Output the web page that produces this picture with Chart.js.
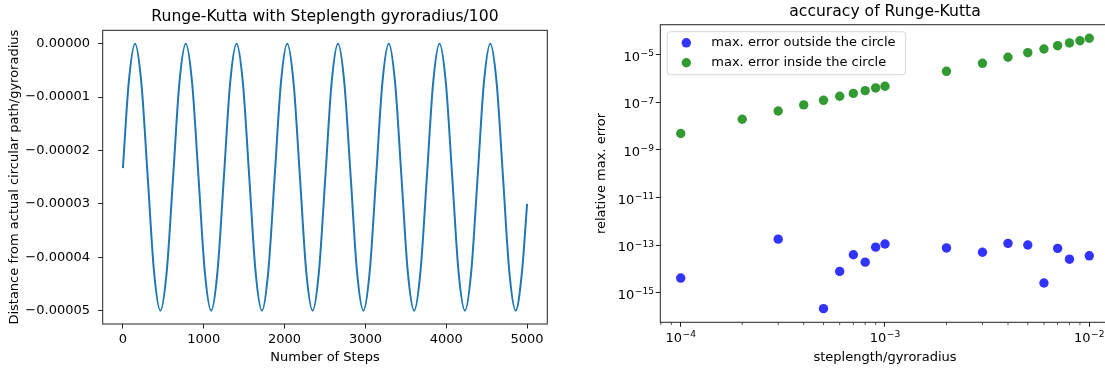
<!DOCTYPE html>
<html>
<head>
<meta charset="utf-8">
<title>Runge-Kutta</title>
<script src="https://cdn.jsdelivr.net/npm/chart.js@4.4.0/dist/chart.umd.min.js"></script>
<style>
    html, body {
        margin: 0;
        padding: 0;
        width: 1105px;
        height: 369px;
        overflow: hidden;
        background: #fff;
    }
    #left_wrapper {
        position: absolute;
        left: 0;
        top: 0;
        width: 560px;
        height: 369px;
    }
    /* the right plot runs a little past the window edge */
    #right_wrapper {
        position: absolute;
        left: 560px;
        top: 0;
        width: 570px;
        height: 369px;
    }
</style>
</head>
<body>
<div id="left_wrapper"><canvas id="steps_chart"></canvas></div>
<div id="right_wrapper"><canvas id="accuracy_chart"></canvas></div>
<script>
// deviation from the circle over one run (steplength gyroradius/100)
var steps = [0, 72,
    150, 228, 307, 385, 464, 542, 621, 699,
    778, 856, 935, 1013, 1092, 1170, 1249, 1327,
    1406, 1484, 1563, 1641, 1720, 1798, 1877, 1955,
    2033, 2111, 2190, 2268, 2347, 2425, 2504, 2582,
    2661, 2739, 2818, 2896, 2975, 3053, 3132, 3210,
    3289, 3367, 3446, 3524, 3603, 3681, 3760, 3838,
    3917, 3995, 4074, 4152, 4231, 4309, 4388, 4466,
    4545, 4623, 4702, 4780, 4859, 4937, 5000];
var distance = [-2.33e-5, -0.73e-5,
    0, -0.73e-5, -2.5e-5, -4.27e-5, -5e-5, -4.27e-5, -2.5e-5, -0.73e-5,
    0, -0.73e-5, -2.5e-5, -4.27e-5, -5e-5, -4.27e-5, -2.5e-5, -0.73e-5,
    0, -0.73e-5, -2.5e-5, -4.27e-5, -5e-5, -4.27e-5, -2.5e-5, -0.73e-5,
    0, -0.73e-5, -2.5e-5, -4.27e-5, -5e-5, -4.27e-5, -2.5e-5, -0.73e-5,
    0, -0.73e-5, -2.5e-5, -4.27e-5, -5e-5, -4.27e-5, -2.5e-5, -0.73e-5,
    0, -0.73e-5, -2.5e-5, -4.27e-5, -5e-5, -4.27e-5, -2.5e-5, -0.73e-5,
    0, -0.73e-5, -2.5e-5, -4.27e-5, -5e-5, -4.27e-5, -2.5e-5, -0.73e-5,
    0, -0.73e-5, -2.5e-5, -4.27e-5, -5e-5, -4.27e-5, -3.0e-5];
var stepTicks = [0, 1000, 2000, 3000, 4000, 5000];
var distanceTicks = [0, -1e-5, -2e-5, -3e-5, -4e-5, -5e-5];

// max. relative error against steplength/gyroradius (null = no error, not on log axis)
var stepLengths = [1e-4, 2e-4, 3e-4, 4e-4, 5e-4, 6e-4, 7e-4, 8e-4, 9e-4,
    1e-3, 2e-3, 3e-3, 4e-3, 5e-3, 6e-3, 7e-3, 8e-3, 9e-3, 1e-2];
var errOutside = [4.2e-15, null, 1.8e-13, null, 2.2e-16, 8.0e-15, 4.0e-14, 1.95e-14, 8.3e-14,
    1.13e-13, 7.7e-14, 5.1e-14, 1.2e-13, 1.02e-13, 2.6e-15, 7.4e-14, 2.6e-14, null, 3.6e-14];
var errInside = [4.8e-9, 1.9e-8, 4.2e-8, 7.6e-8, 1.18e-7, 1.74e-7, 2.3e-7, 3.0e-7, 3.9e-7,
    4.6e-7, 1.94e-6, 4.2e-6, 7.5e-6, 1.17e-5, 1.67e-5, 2.3e-5, 3.0e-5, 3.7e-5, 4.7e-5];
var stepLengthTicks = [1e-4, 1e-3, 1e-2];
var errorTicks = [1e-15, 1e-13, 1e-11, 1e-9, 1e-7, 1e-5];

Chart.defaults.font.family = "'DejaVu Sans', sans-serif";
Chart.defaults.font.size = 13;
Chart.defaults.color = '#000';
Chart.defaults.animation = false;

let axisColor = '#222';
let baseFont = "13px 'DejaVu Sans'";
let expFont = "9.1px 'DejaVu Sans'";

let fixedLabel = function (value) {
    let text = Math.abs(value).toFixed(5);
    return value < 0 ? '\u2212' + text : text;
}

let exponentText = function (value) {
    let exp = Math.round(Math.log10(value));
    return (exp < 0 ? '\u2212' : '') + Math.abs(exp);
}

let toPoints = function (xs, ys) {
    return xs.map(function (x, i) { return { x: x, y: ys[i] }; });
}

// box around the plot area, like a full set of spines
let framePlugin = {
    id: 'frame',
    afterDraw: function (chart) {
        let ca = chart.chartArea;
        let ctx = chart.ctx;
        ctx.save();
        ctx.strokeStyle = axisColor;
        ctx.lineWidth = 1;
        ctx.strokeRect(ca.left, ca.top, ca.right - ca.left, ca.bottom - ca.top);
        ctx.restore();
    }
};

// short ticks at 2..9 x 10^n on the log x axis
let minorTickPlugin = {
    id: 'minorTicks',
    afterDraw: function (chart) {
        let scale = chart.scales.x;
        let ctx = chart.ctx;
        ctx.save();
        ctx.strokeStyle = axisColor;
        ctx.lineWidth = 0.8;
        for (let d = -5; d <= -2; d++) {
            for (let m = 2; m <= 9; m++) {
                let v = m * Math.pow(10, d);
                if (v < scale.min || v > scale.max) {
                    continue;
                }
                let px = scale.getPixelForValue(v);
                ctx.beginPath();
                ctx.moveTo(px, scale.top);
                ctx.lineTo(px, scale.top + 2.6);
                ctx.stroke();
            }
        }
        ctx.restore();
    }
};

// "10" with a raised, smaller exponent for the log axes
let drawPower = function (ctx, value, left, baseline) {
    ctx.font = baseFont;
    ctx.fillText('10', left, baseline);
    let w = ctx.measureText('10').width;
    ctx.font = expFont;
    ctx.fillText(exponentText(value), left + w + 0.5, baseline - 4.7);
}

let powerWidth = function (ctx, value) {
    ctx.font = baseFont;
    let w = ctx.measureText('10').width + 0.5;
    ctx.font = expFont;
    return w + ctx.measureText(exponentText(value)).width;
}

let powerTickPlugin = {
    id: 'powerTicks',
    afterDraw: function (chart) {
        let ctx = chart.ctx;
        let xs = chart.scales.x;
        let ys = chart.scales.y;
        ctx.save();
        ctx.fillStyle = '#000';
        ctx.textBaseline = 'alphabetic';
        ctx.textAlign = 'left';
        xs.ticks.forEach(function (t) {
            let px = xs.getPixelForValue(t.value);
            let w = powerWidth(ctx, t.value);
            drawPower(ctx, t.value, px - w / 2, xs.top + 19.8);
        });
        ys.ticks.forEach(function (t) {
            let py = ys.getPixelForValue(t.value);
            let w = powerWidth(ctx, t.value);
            drawPower(ctx, t.value, ys.right - 6.3 - w, py + 6.2);
        });
        ctx.restore();
    }
};

// legend drawn inside the plot area, upper left
let insideLegendPlugin = {
    id: 'insideLegend',
    afterDraw: function (chart) {
        let ca = chart.chartArea;
        let ctx = chart.ctx;
        let x = ca.left + 7;
        let y = ca.top + 7;
        ctx.save();
        ctx.font = baseFont;
        let textWidth = 0;
        chart.data.datasets.forEach(function (ds) {
            textWidth = Math.max(textWidth, ctx.measureText(ds.label).width);
        });
        let w = 44 + textWidth + 10;
        let h = 43;
        ctx.beginPath();
        ctx.roundRect(x, y, w, h, 3);
        ctx.fillStyle = 'rgba(255,255,255,0.8)';
        ctx.fill();
        ctx.strokeStyle = '#d6d6d6';
        ctx.lineWidth = 1;
        ctx.stroke();
        ctx.textBaseline = 'middle';
        chart.data.datasets.forEach(function (ds, i) {
            let rowY = y + 11.1 + i * 19.9;
            ctx.beginPath();
            ctx.arc(x + 19, rowY, ds.pointRadius, 0, 2 * Math.PI);
            ctx.fillStyle = ds.backgroundColor;
            ctx.fill();
            ctx.fillStyle = '#000';
            ctx.fillText(ds.label, x + 44, rowY);
        });
        ctx.restore();
    }
};

let tickGrid = {
    drawOnChartArea: false,
    drawTicks: true,
    tickLength: 4.5,
    tickColor: axisColor,
    tickWidth: 1
};

let setupStepsChart = function () {
    let canvas = document.getElementById('steps_chart');
    return new Chart(canvas, {
        type: 'line',
        data: {
            datasets: [{
                label: 'distance',
                data: toPoints(steps, distance),
                borderColor: '#1f77b4',
                borderWidth: 2,
                pointRadius: 0,
                fill: false,
                cubicInterpolationMode: 'monotone'
            }]
        },
        options: {
            responsive: true,
            maintainAspectRatio: false,
            layout: { padding: { left: 0, right: 12.7, top: 0, bottom: 0 } },
            plugins: {
                legend: { display: false },
                tooltip: { enabled: false },
                title: {
                    display: true,
                    fullSize: false,
                    text: 'Runge-Kutta with Steplength gyroradius/100',
                    font: { size: 15.6, weight: 'normal' },
                    padding: { top: 7.3, bottom: 4.3 }
                }
            },
            scales: {
                x: {
                    type: 'linear',
                    min: -250,
                    max: 5250,
                    afterBuildTicks: function (scale) {
                        scale.ticks = stepTicks.map(function (v) { return { value: v }; });
                    },
                    afterFit: function (scale) { scale.height = 45; },
                    ticks: { padding: 2.9, maxRotation: 0, callback: function (v) { return String(v); } },
                    grid: tickGrid,
                    border: { display: false },
                    title: { display: true, text: 'Number of Steps', padding: { top: 0, bottom: 3.7 } }
                },
                y: {
                    type: 'linear',
                    min: -5.25e-5,
                    max: 2.5e-6,
                    afterBuildTicks: function (scale) {
                        scale.ticks = distanceTicks.map(function (v) { return { value: v }; });
                    },
                    afterFit: function (scale) { scale.width = 102.7; },
                    ticks: { padding: 8.2, callback: fixedLabel },
                    grid: tickGrid,
                    border: { display: false },
                    title: {
                        display: true,
                        text: 'Distance from actual circular path/gyroradius',
                        padding: { top: 6.9, bottom: 0 }
                    }
                }
            }
        },
        plugins: [framePlugin]
    });
}

let setupAccuracyChart = function () {
    let canvas = document.getElementById('accuracy_chart');
    return new Chart(canvas, {
        type: 'scatter',
        data: {
            datasets: [{
                label: 'max. error outside the circle',
                data: toPoints(stepLengths, errOutside),
                backgroundColor: 'rgb(51,51,255)',
                borderWidth: 0,
                pointRadius: 4.7,
                pointHoverRadius: 4.7
            }, {
                label: 'max. error inside the circle',
                data: toPoints(stepLengths, errInside),
                backgroundColor: 'rgb(51,153,51)',
                borderWidth: 0,
                pointRadius: 4.7,
                pointHoverRadius: 4.7
            }]
        },
        options: {
            responsive: true,
            maintainAspectRatio: false,
            layout: { padding: { left: 0, right: 20.3, top: 0, bottom: 0 } },
            plugins: {
                legend: { display: false },
                tooltip: { enabled: false },
                title: {
                    display: true,
                    fullSize: false,
                    text: 'accuracy of Runge-Kutta',
                    font: { size: 15.6, weight: 'normal' },
                    padding: { top: 2.5, bottom: 3.5 }
                }
            },
            scales: {
                x: {
                    type: 'logarithmic',
                    min: Math.pow(10, -4.1),
                    max: Math.pow(10, -1.9),
                    afterBuildTicks: function (scale) {
                        scale.ticks = stepLengthTicks.map(function (v) { return { value: v }; });
                    },
                    afterFit: function (scale) { scale.height = 46.7; },
                    ticks: { display: false },
                    grid: tickGrid,
                    border: { display: false },
                    title: { display: true, text: 'steplength/gyroradius', padding: { top: 0, bottom: 3.7 } }
                },
                y: {
                    type: 'logarithmic',
                    min: Math.pow(10, -16.23),
                    max: Math.pow(10, -3.76),
                    afterBuildTicks: function (scale) {
                        scale.ticks = errorTicks.map(function (v) { return { value: v }; });
                    },
                    afterFit: function (scale) { scale.width = 100.3; },
                    ticks: { display: false },
                    grid: tickGrid,
                    border: { display: false },
                    title: {
                        display: true,
                        text: 'relative max. error',
                        padding: { top: 33.6, bottom: 0 }
                    }
                }
            }
        },
        plugins: [framePlugin, minorTickPlugin, powerTickPlugin, insideLegendPlugin]
    });
}

setupStepsChart();
setupAccuracyChart();
</script>
</body>
</html>
